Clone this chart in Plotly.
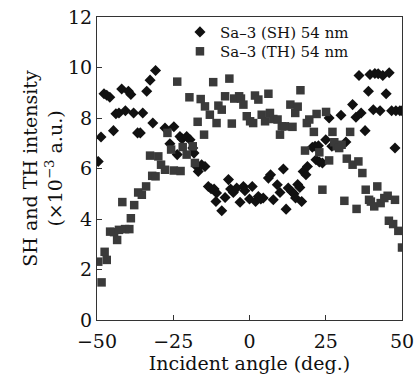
import plotly.graph_objects as go

sh_angle = [-49.6, -48.7, -47.7, -46.8, -45.8, -44.6, -43.8, -42.8, -41.9, -40.7,
            -39.7, -38.9, -38.0, -36.7, -35.8, -35.0, -33.7, -32.6, -31.7, -30.8,
            -27.7, -26.1, -24.8, -23.7, -22.8, -22.1, -20.6, -19.5, -18.6, -18.2,
            -17.3, -16.8, -15.7, -14.6, -13.5, -12.6, -11.6, -11.0, -10.8, -9.1,
            -8.0, -6.9, -6.2, -5.3, -4.2, -3.1, -2.0, -1.5, 0.0, 0.9,
            2.0, 2.9, 3.7, 4.5, 6.2, 6.9, 7.8, 9.1, 10.0, 11.1,
            12.0, 12.7, 13.8, 14.6, 15.1, 15.8, 16.5, 17.1, 17.6, 18.5,
            19.0, 20.6, 21.5, 21.8, 22.6, 22.9, 23.9, 25.0, 26.1, 27.0,
            30.0, 31.6, 33.8, 34.9, 35.9, 36.6, 37.9, 39.0, 39.5, 40.6,
            41.1, 42.2, 42.8, 43.7, 44.8, 45.8, 46.6, 47.7, 48.0, 49.3, 50.0]
sh_value = [6.28, 7.25, 8.96, 8.90, 8.82, 7.50, 8.17, 8.20, 9.15, 8.29,
            9.06, 8.93, 8.20, 7.41, 7.41, 8.20, 9.06, 9.50, 7.80, 9.88,
            7.60, 6.98, 7.65, 6.55, 7.27, 7.17, 7.27, 7.14, 6.81, 6.61,
            6.08, 5.88, 6.15, 6.08, 5.29, 5.20, 5.19, 4.69, 5.03, 4.33,
            4.85, 5.56, 5.19, 5.05, 5.23, 4.66, 5.29, 5.12, 4.79, 5.29,
            4.69, 4.89, 4.79, 4.83, 5.62, 5.75, 4.76, 5.36, 5.05, 5.98,
            4.39, 5.23, 5.09, 5.00, 4.83, 5.37, 5.25, 4.69, 5.88, 5.75,
            6.08, 6.84, 6.88, 6.35, 6.90, 6.26, 6.22, 7.14, 8.00, 6.88,
            8.11, 7.05, 8.53, 8.03, 9.68, 8.20, 7.50, 9.06, 9.72, 8.33,
            9.76, 9.75, 8.29, 9.68, 8.96, 9.79, 8.29, 6.81, 8.29, 8.29, 8.29]

th_angle = [-49.6, -48.5, -47.5, -46.8, -45.7, -44.4, -43.4, -42.8, -41.7, -40.8,
            -39.4, -38.9, -37.8, -36.5, -35.3, -33.9, -32.6, -31.9, -30.8, -29.9,
            -29.0, -27.7, -26.9, -25.7, -24.8, -23.7, -22.6, -21.9, -20.6, -19.7,
            -18.6, -17.9, -17.0, -16.0, -14.9, -14.6, -13.0, -11.9, -10.8, -10.2,
            -9.1, -8.0, -6.6, -5.8, -5.0, -3.4, -2.8, -2.0, -0.9, 0.2,
            1.2, 1.8, 2.9, 4.0, 5.1, 6.2, 6.7, 7.8, 9.2, 10.0,
            10.6, 11.6, 13.4, 14.1, 15.0, 15.8, 16.7, 18.2, 18.8, 19.6,
            21.1, 22.0, 22.9, 23.9, 25.1, 26.1, 27.2, 27.8, 28.6, 29.4,
            30.2, 31.1, 31.9, 33.0, 33.8, 35.1, 35.7, 37.0, 38.1, 39.2,
            39.8, 40.9, 41.9, 43.0, 44.2, 45.3, 45.7, 47.1, 47.7, 48.8, 50.0]
th_value = [2.31, 1.49, 2.70, 2.38, 3.50, 3.48, 3.17, 3.57, 4.67, 3.60,
            3.60, 4.03, 4.55, 5.05, 4.96, 5.29, 6.51, 5.71, 5.69, 6.48,
            6.15, 5.95, 7.41, 6.75, 5.92, 9.44, 5.90, 6.85, 6.55, 8.82,
            6.88, 6.22, 7.85, 8.75, 7.34, 8.46, 8.13, 9.42, 7.80, 8.49,
            8.33, 8.86, 9.56, 7.78, 8.77, 8.86, 8.77, 8.53, 8.07, 7.87,
            7.80, 8.89, 8.73, 8.13, 7.87, 8.96, 8.20, 7.96, 7.94, 7.34,
            7.67, 7.67, 8.53, 7.65, 8.20, 8.45, 9.10, 6.71, 7.80, 7.94,
            7.45, 8.16, 6.64, 5.16, 8.24, 6.32, 7.45, 7.04, 6.88, 6.81,
            6.94, 4.72, 6.39, 7.45, 6.15, 4.40, 6.28, 5.82, 5.16, 4.76,
            4.69, 4.50, 5.29, 4.63, 4.83, 4.92, 3.93, 3.80, 4.76, 3.53, 2.87]

x_ticks = [-50, -25, 0, 25, 50]
y_ticks = [0, 2, 4, 6, 8, 10, 12]

FONT = "DejaVu Serif"

fig = go.Figure()
fig.add_trace(go.Scatter(x=sh_angle, y=sh_value, mode="markers",
                         name="Sa\u20133 (SH) 54 nm", legend="legend",
                         marker=dict(symbol="diamond", size=8.5, color="#111111")))
fig.add_trace(go.Scatter(x=th_angle, y=th_value, mode="markers",
                         name="Sa\u20133 (TH) 54 nm", legend="legend2",
                         marker=dict(symbol="square", size=8.5, color="#3a3a3a")))

axis_common = dict(showgrid=False, zeroline=False, showline=True, linecolor="#333",
                   linewidth=1.2, mirror=True, ticks="inside", ticklen=5,
                   automargin=False,
                   tickcolor="#333", tickfont=dict(family=FONT, size=19, color="#111"))

fig.update_xaxes(range=[-50, 50], tickvals=x_ticks, **axis_common,
                 ticklabelstandoff=4,
                 title=dict(text="Incident angle (deg.)",
                            font=dict(family=FONT, size=19, color="#111"), standoff=7))
fig.update_yaxes(range=[0, 12], tickvals=y_ticks, **axis_common,
                 title=dict(text="SH and TH intensity<br>(\u00d710<sup>\u22123</sup> a.u.)",
                            font=dict(family=FONT, size=19, color="#111"), standoff=0))

leg_common = dict(xanchor="left", yanchor="middle", bgcolor="rgba(0,0,0,0)",
                  font=dict(family=FONT, size=15, color="#111"), itemwidth=30)

fig.update_layout(
    width=419, height=374,
    margin=dict(l=97, r=17, t=17, b=54),
    plot_bgcolor="white", paper_bgcolor="white",
    showlegend=True,
    legend=dict(x=0.272, y=0.950, **leg_common),
    legend2=dict(x=0.272, y=0.886, **leg_common),
)

fig.write_html("out.html", config={"displayModeBar": False},
               post_script="document.body.style.margin='0';")
